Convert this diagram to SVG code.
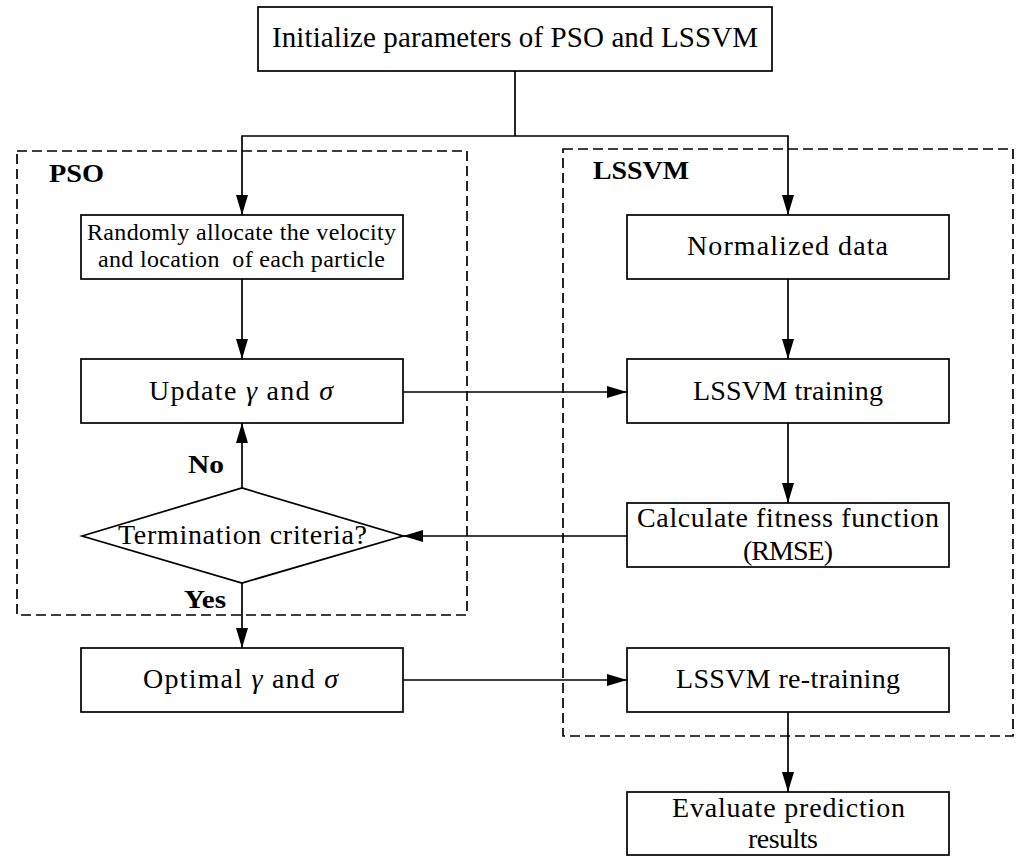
<svg xmlns="http://www.w3.org/2000/svg" width="1017" height="857" viewBox="0 0 1017 857">
<style>
.box{fill:#fff;stroke:#000;stroke-width:1.7}
.grp{fill:none;stroke:#000;stroke-width:1.7;stroke-dasharray:10,5}
.con{fill:none;stroke:#000;stroke-width:1.7}
.t{font-family:"Liberation Serif",serif;fill:#000;text-anchor:middle;font-size:28px}
.lb{font-family:"Liberation Serif",serif;font-weight:bold;fill:#000}
</style>
<defs>
<marker id="ah" markerUnits="userSpaceOnUse" markerWidth="20" markerHeight="12" refX="20" refY="6" orient="auto">
<path d="M0,0 L20,6 L0,12 z" fill="#000"/>
</marker>
</defs>
<rect width="1017" height="857" fill="#fff"/>
<g id="group-pso">
<rect class="grp" x="17" y="151" width="450" height="464"/>
<text class="lb" x="49" y="182" font-size="26" textLength="55" lengthAdjust="spacingAndGlyphs">PSO</text>
</g>
<g id="group-lssvm">
<rect class="grp" x="563" y="149" width="450" height="587"/>
<text class="lb" x="593" y="179" font-size="26" textLength="96" lengthAdjust="spacingAndGlyphs">LSSVM</text>
</g>
<g id="connectors">
<path class="con" d="M515,71 V136"/>
<path class="con" d="M515,136 H242 V215" marker-end="url(#ah)"/>
<path class="con" d="M515,136 H788 V215" marker-end="url(#ah)"/>
<path class="con" d="M242,279 V359" marker-end="url(#ah)"/>
<path class="con" d="M403,392 H627" marker-end="url(#ah)"/>
<path class="con" d="M788,279 V359" marker-end="url(#ah)"/>
<path class="con" d="M788,423 V503" marker-end="url(#ah)"/>
<path class="con" d="M627,536 H403" marker-end="url(#ah)"/>
<path class="con" d="M242,488 V423" marker-end="url(#ah)"/>
<path class="con" d="M242,583 V648" marker-end="url(#ah)"/>
<path class="con" d="M403,680 H627" marker-end="url(#ah)"/>
<path class="con" d="M788,712 V792" marker-end="url(#ah)"/>
<text class="lb" x="188" y="473" font-size="25" textLength="36" lengthAdjust="spacingAndGlyphs">No</text>
<text class="lb" x="184" y="608" font-size="25" textLength="42" lengthAdjust="spacingAndGlyphs">Yes</text>
</g>
<g id="node-init">
<rect class="box" x="258" y="7" width="514" height="64" stroke-width="2.3"/>
<text class="t" x="515" y="47" style="font-size:29px" textLength="486" lengthAdjust="spacing">Initialize parameters of PSO and LSSVM</text>
</g>
<g id="node-random">
<rect class="box" x="81" y="215" width="322" height="64"/>
<text class="t" x="241.5" y="240" style="font-size:24px" textLength="309" lengthAdjust="spacing">Randomly allocate the velocity</text>
<text class="t" x="241.5" y="267" style="font-size:24px" textLength="287" lengthAdjust="spacing" xml:space="preserve">and location  of each particle</text>
</g>
<g id="node-update">
<rect class="box" x="81" y="359" width="322" height="64"/>
<text class="t" x="241" y="400" textLength="184" lengthAdjust="spacing">Update <tspan font-style="italic">γ</tspan> and <tspan font-style="italic">σ</tspan></text>
</g>
<g id="node-termination">
<polygon class="box" points="82,536 242,488 403,536 242,583"/>
<text class="t" x="242.5" y="544" textLength="249" lengthAdjust="spacing">Termination criteria?</text>
</g>
<g id="node-optimal">
<rect class="box" x="81" y="648" width="322" height="64"/>
<text class="t" x="240.5" y="688" textLength="195" lengthAdjust="spacing">Optimal <tspan font-style="italic">γ</tspan> and <tspan font-style="italic">σ</tspan></text>
</g>
<g id="node-normalized">
<rect class="box" x="627" y="215" width="322" height="64"/>
<text class="t" x="787.5" y="255" textLength="201" lengthAdjust="spacing">Normalized data</text>
</g>
<g id="node-training">
<rect class="box" x="627" y="359" width="322" height="64"/>
<text class="t" x="788" y="400" textLength="190" lengthAdjust="spacing">LSSVM training</text>
</g>
<g id="node-fitness">
<rect class="box" x="627" y="503" width="322" height="64"/>
<text class="t" x="788" y="527" textLength="302" lengthAdjust="spacing">Calculate fitness function</text>
<text class="t" x="788" y="560" textLength="90" lengthAdjust="spacing">(RMSE)</text>
</g>
<g id="node-retraining">
<rect class="box" x="627" y="648" width="322" height="64"/>
<text class="t" x="788" y="688" textLength="224" lengthAdjust="spacing">LSSVM re-training</text>
</g>
<g id="node-evaluate">
<rect class="box" x="627" y="792" width="322" height="63"/>
<text class="t" x="788.5" y="817" textLength="233" lengthAdjust="spacing">Evaluate prediction</text>
<text class="t" x="783" y="848" textLength="70" lengthAdjust="spacing">results</text>
</g>
</svg>
